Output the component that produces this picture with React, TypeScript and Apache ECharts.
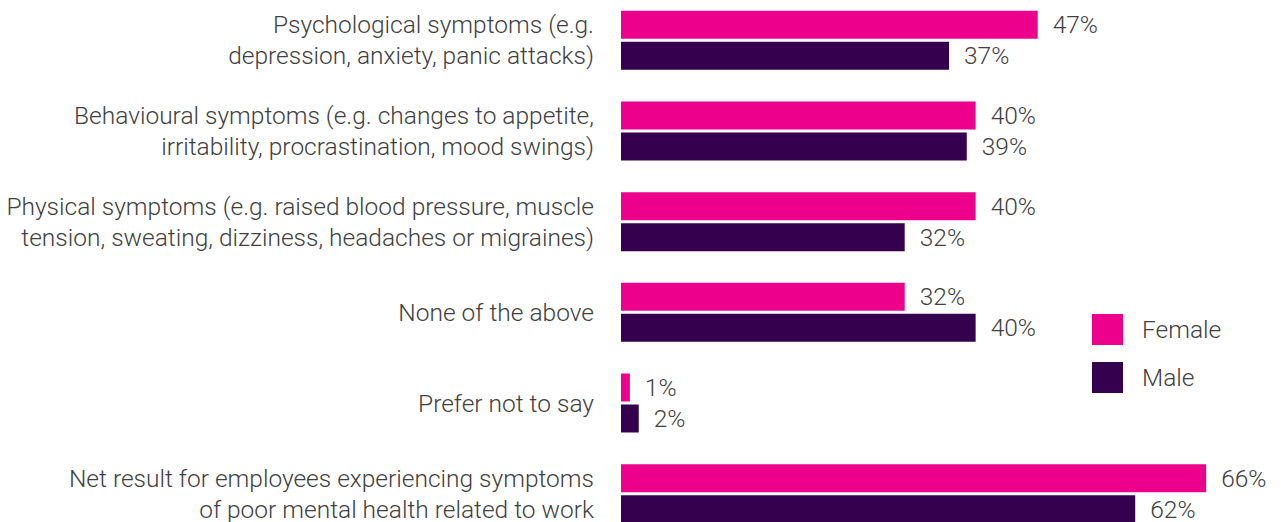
import React, { useEffect, useRef } from "react";
import * as echarts from "echarts";

const categories = [
  "Psychological symptoms (e.g.\ndepression, anxiety, panic attacks)",
  "Behavioural symptoms (e.g. changes to appetite,\nirritability, procrastination, mood swings)",
  "Physical symptoms (e.g. raised blood pressure, muscle\ntension, sweating, dizziness, headaches or migraines)",
  "None of the above",
  "Prefer not to say",
  "Net result for employees experiencing symptoms\nof poor mental health related to work",
];
const female = [47, 40, 40, 32, 1, 66];
// bar lengths as drawn in the picture (last bar is drawn shorter than its label)
const male = [37, 39, 32, 40, 2, 58];
const femaleLabels = ["47%", "40%", "40%", "32%", "1%", "66%"];
const maleLabels = ["37%", "39%", "32%", "40%", "2%", "62%"];

const TEXT = "#404040";
const FONT = "Roboto";
const FS = 24.5;

export default function App() {
  const ref = useRef<HTMLDivElement>(null);
  useEffect(() => {
    const chart = echarts.init(ref.current!, null, { renderer: "svg" });
    const mkLabel = (labels: string[]) => ({
      show: true,
      position: "right",
      distance: 15,
      formatter: (p: any) => labels[p.dataIndex],
      color: TEXT,
      fontSize: FS,
      fontFamily: FONT,
      fontWeight: 300,
    });
    chart.setOption({
      animation: false,
      grid: { left: 621, top: 0, width: 620.6, height: 544 },
      legend: {
        orient: "vertical",
        left: 1092,
        top: 319,
        padding: 0,
        itemWidth: 31,
        itemHeight: 31,
        itemGap: 17,
        icon: "rect",
        textStyle: { color: TEXT, fontSize: FS, fontFamily: FONT, fontWeight: 300, padding: [0, 0, 0, 14] },
        data: ["Female", "Male"],
      },
      xAxis: { type: "value", min: 0, max: 70, show: false },
      yAxis: {
        type: "category",
        inverse: true,
        data: categories,
        axisLine: { show: false },
        axisTick: { show: false },
        axisLabel: {
          margin: 27,
          color: TEXT,
          fontSize: FS,
          fontFamily: FONT,
          fontWeight: 300,
          lineHeight: 31,
          align: "right",
        },
      },
      series: [
        {
          name: "Female",
          type: "bar",
          data: female,
          barWidth: 28,
          barGap: "10.7%",
          itemStyle: { color: "#EC008C" },
          label: mkLabel(femaleLabels),
        },
        {
          name: "Male",
          type: "bar",
          data: male,
          barWidth: 28,
          barGap: "10.7%",
          itemStyle: { color: "#35004E" },
          label: mkLabel(maleLabels),
        },
      ],
    });
    return () => chart.dispose();
  }, []);
  return (
    <div
      style={{
        position: "absolute",
        left: 0,
        top: 0,
        width: 1281,
        height: 522,
        overflow: "hidden",
        background: "#fff",
      }}
    >
      <div
        ref={ref}
        style={{ position: "absolute", left: 0, top: -5, width: 1281, height: 549 }}
      />
    </div>
  );
}
